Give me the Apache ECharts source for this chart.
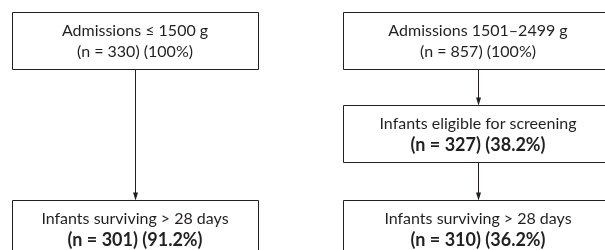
<!DOCTYPE html>
<html>
<head>
<meta charset="utf-8">
<script src="https://cdn.jsdelivr.net/npm/echarts@6/dist/echarts.min.js"></script>
<style>
  html, body { margin: 0; padding: 0; background: #fff; }
  #main { width: 605px; height: 250px; }
</style>
</head>
<body>
<div id="main"></div>
<script>
var myChart = echarts.init(document.getElementById("main"));

// flowchart contents
var titles = ['Admissions \u2264 1500 g', 'Infants surviving > 28 days',
              'Admissions 1501\u20132499 g', 'Infants eligible for screening', 'Infants surviving > 28 days'];
var counts = [330, 301, 857, 327, 310];
var percents = ['100%', '91.2%', '100%', '38.2%', '36.2%'];
var boldSecond = [false, true, false, true, true];

// layout (column, top y)
var boxCol = [0, 0, 1, 1, 1];
var boxTop = [12, 200, 12, 105, 200];
var colX = [12, 343];
var boxW = [246, 270];
var boxH = 57;
var links = [[0, 1], [2, 3], [3, 4]];

var font = 'Lato, "Noto Sans", sans-serif';
var ink = '#231f20';
var elements = [];

titles.forEach(function (t, i) {
  var c = boxCol[i];
  var x = colX[c], y = boxTop[i], w = boxW[c];
  var cx = x + w / 2;
  elements.push({
    type: 'rect',
    shape: { x: x + 0.5, y: y + 0.5, width: w, height: boxH },
    style: { fill: '#fff', stroke: ink, lineWidth: 1 }
  });
  elements.push({
    type: 'text',
    x: cx, y: y + 19,
    style: { text: t, font: '16px ' + font, fill: ink, align: 'center', verticalAlign: 'middle' }
  });
  elements.push({
    type: 'text',
    x: cx, y: y + 40,
    style: {
      text: '(n = ' + counts[i] + ') (' + percents[i] + ')',
      font: (boldSecond[i] ? 'bold 18px ' : '16px ') + font,
      fill: ink, align: 'center', verticalAlign: 'middle'
    }
  });
});

links.forEach(function (l) {
  var a = l[0], b = l[1];
  var c = boxCol[a];
  var cx = Math.round(colX[c] + boxW[c] / 2) + 0.5;
  var y1 = boxTop[a] + boxH + 0.5;
  var y2 = boxTop[b] + 0.5;
  elements.push({
    type: 'line',
    shape: { x1: cx, y1: y1, x2: cx, y2: y2 - 6 },
    style: { stroke: ink, lineWidth: 1 }
  });
  elements.push({
    type: 'polygon',
    shape: { points: [[cx - 2.5, y2 - 8], [cx + 2.5, y2 - 8], [cx, y2]] },
    style: { fill: ink }
  });
});

var option = {
  backgroundColor: '#fff',
  animation: false,
  graphic: { elements: elements }
};
myChart.setOption(option);
</script>
</body>
</html>
